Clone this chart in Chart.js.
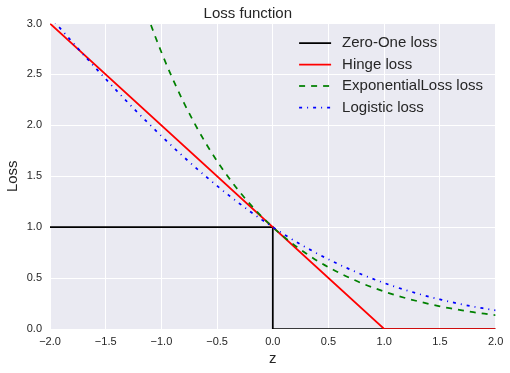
<!DOCTYPE html>
<html>
<head>
<meta charset="utf-8">
<script src="https://cdn.jsdelivr.net/npm/chart.js@4.4.1/dist/chart.umd.min.js"></script>
<style>
  body { margin: 0; background: #ffffff; }
  canvas { display: block; }
</style>
</head>
<body>
<canvas id="lossChart" width="510" height="373"></canvas>
<script>
// values
var seriesNames = ['Zero-One loss', 'Hinge loss', 'ExponentialLoss loss', 'Logistic loss'];

var zeroOneZ = [-2, 0, 0, 2];
var zeroOneLoss = [1, 1, 0, 0];

var hingeZ = [-2, 1, 2];
var hingeLoss = [3, 0, 0];

var expZ = [-1.2, -1.1, -1.0, -0.9, -0.8, -0.7, -0.6, -0.5, -0.4, -0.3, -0.2, -0.1, 0,
  0.1, 0.2, 0.3, 0.4, 0.5, 0.6, 0.7, 0.8, 0.9, 1.0, 1.1, 1.2, 1.3, 1.4, 1.5, 1.6, 1.7, 1.8, 1.9, 2.0];
var expLoss = [3.32, 3.004, 2.718, 2.46, 2.226, 2.014, 1.822, 1.649, 1.492, 1.35, 1.221, 1.105, 1.0,
  0.905, 0.819, 0.741, 0.67, 0.607, 0.549, 0.497, 0.449, 0.407, 0.368, 0.333, 0.301, 0.273, 0.247, 0.223, 0.202, 0.183, 0.165, 0.15, 0.135];

var logZ = [-2.0, -1.9, -1.8, -1.7, -1.6, -1.5, -1.4, -1.3, -1.2, -1.1, -1.0, -0.9, -0.8, -0.7, -0.6, -0.5, -0.4, -0.3, -0.2, -0.1, 0,
  0.1, 0.2, 0.3, 0.4, 0.5, 0.6, 0.7, 0.8, 0.9, 1.0, 1.1, 1.2, 1.3, 1.4, 1.5, 1.6, 1.7, 1.8, 1.9, 2.0];
var logLoss = [3.069, 2.942, 2.818, 2.695, 2.574, 2.455, 2.338, 2.223, 2.111, 2.002, 1.895, 1.791, 1.69, 1.592, 1.497, 1.405, 1.317, 1.233, 1.151, 1.074, 1.0,
  0.93, 0.863, 0.8, 0.74, 0.684, 0.631, 0.582, 0.535, 0.492, 0.452, 0.414, 0.38, 0.348, 0.318, 0.291, 0.265, 0.242, 0.22, 0.201, 0.183];

var xTickMin = -2, xTickMax = 2, xTickStep = 0.5;
var yTickMin = 0, yTickMax = 3, yTickStep = 0.5;

var textColor = '#262626';
Chart.defaults.font.family = "'Liberation Sans', Arial, sans-serif";
Chart.defaults.color = textColor;

function toPoints(xs, ys) {
  var pts = [];
  for (var i = 0; i < xs.length; i++) {
    pts.push({x: xs[i], y: ys[i]});
  }
  return pts;
}

function tickText(v) {
  return v.toFixed(1).replace('-', '\u2212');
}

// grey plot background, seaborn style
var plotBackground = {
  id: 'plotBackground',
  beforeDraw: function (chart) {
    var a = chart.chartArea;
    var ctx = chart.ctx;
    ctx.save();
    ctx.fillStyle = '#EAEAF2';
    ctx.fillRect(a.left, a.top, a.right - a.left, a.bottom - a.top);
    ctx.restore();
  }
};

// legend drawn inside the plot, upper right, no frame
var innerLegend = {
  id: 'innerLegend',
  afterDraw: function (chart) {
    var a = chart.chartArea;
    var ctx = chart.ctx;
    var x0 = a.right - 196.5;
    var y0 = a.top + 19.5;
    var rowH = 21.5;
    ctx.save();
    ctx.font = "15px 'Liberation Sans', Arial, sans-serif";
    ctx.textBaseline = 'middle';
    ctx.textAlign = 'left';
    chart.data.datasets.forEach(function (ds, i) {
      var y = y0 + i * rowH;
      ctx.strokeStyle = ds.borderColor;
      ctx.lineWidth = ds.borderWidth;
      ctx.setLineDash(ds.borderDash || []);
      ctx.beginPath();
      ctx.moveTo(x0, y);
      ctx.lineTo(x0 + 32, y);
      ctx.stroke();
      ctx.setLineDash([]);
      ctx.fillStyle = textColor;
      ctx.fillText(ds.label, x0 + 43, y);
    });
    ctx.restore();
  }
};

var ctx = document.getElementById('lossChart').getContext('2d');
var lossChart = new Chart(ctx, {
  type: 'line',
  data: {
    datasets: [{
      label: seriesNames[0],
      data: toPoints(zeroOneZ, zeroOneLoss),
      borderColor: '#000000',
      borderWidth: 1.75,
      order: 4
    }, {
      label: seriesNames[1],
      data: toPoints(hingeZ, hingeLoss),
      borderColor: '#FF0000',
      borderWidth: 1.75,
      order: 3
    }, {
      label: seriesNames[2],
      data: toPoints(expZ, expLoss),
      borderColor: '#008000',
      borderWidth: 1.75,
      borderDash: [6, 6],
      cubicInterpolationMode: 'monotone',
      order: 2
    }, {
      label: seriesNames[3],
      data: toPoints(logZ, logLoss),
      borderColor: '#0000FF',
      borderWidth: 1.75,
      borderDash: [3, 5, 1, 5],
      cubicInterpolationMode: 'monotone',
      order: 1
    }]
  },
  options: {
    responsive: false,
    animation: false,
    elements: {
      point: { radius: 0, hoverRadius: 0 },
      line: { tension: 0, borderCapStyle: 'butt' }
    },
    layout: { padding: { left: 0, right: 14.4, top: 0, bottom: 0 } },
    plugins: {
      legend: { display: false },
      tooltip: { enabled: false },
      title: {
        display: true,
        text: 'Loss function',
        color: textColor,
        font: { size: 15, weight: 'normal' },
        padding: { top: 5, bottom: 0.5 }
      }
    },
    scales: {
      x: {
        type: 'linear',
        min: xTickMin,
        max: xTickMax,
        afterFit: function (scale) { scale.height = 44; },
        border: { display: false },
        grid: { color: '#ffffff', lineWidth: 1, drawTicks: false },
        ticks: {
          stepSize: xTickStep,
          padding: 6,
          color: textColor,
          font: { size: 11 },
          maxRotation: 0,
          callback: function (v) { return tickText(v); }
        },
        title: {
          display: true,
          text: 'z',
          color: textColor,
          font: { size: 15 },
          padding: { top: 0, bottom: 5 }
        }
      },
      y: {
        min: yTickMin,
        max: yTickMax,
        afterFit: function (scale) { scale.width = 50; },
        border: { display: false },
        grid: { color: '#ffffff', lineWidth: 1, drawTicks: false },
        ticks: {
          stepSize: yTickStep,
          padding: 8,
          color: textColor,
          font: { size: 11 },
          callback: function (v) { return tickText(v); }
        },
        title: {
          display: true,
          text: 'Loss',
          color: textColor,
          font: { size: 15 },
          padding: { top: 4, bottom: 0 }
        }
      }
    }
  },
  plugins: [plotBackground, innerLegend]
});
</script>
</body>
</html>
